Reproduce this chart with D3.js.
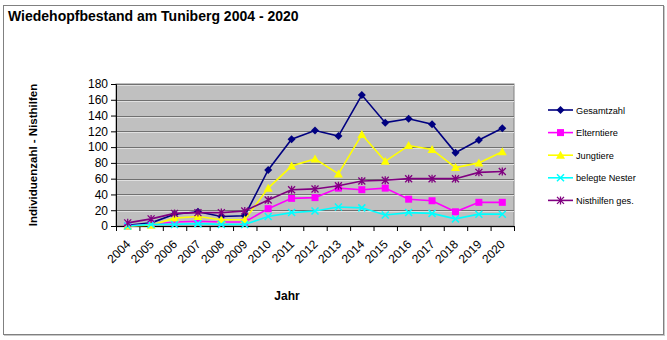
<!DOCTYPE html>
<html><head><meta charset="utf-8">
<script src="https://cdn.jsdelivr.net/npm/d3@7"></script>
<style>html,body{margin:0;padding:0;background:#fff;} svg{display:block;font-family:Arial,"Liberation Sans",Helvetica,sans-serif;}</style>
</head><body><svg id="c" width="667" height="340"></svg>
<script>
const years = ["2004","2005","2006","2007","2008","2009","2010","2011","2012","2013","2014","2015","2016","2017","2018","2019","2020"];
const gesamtzahl    = [1, 4, 15, 18, 12, 13, 71, 110, 121, 114, 166, 131, 136, 129, 93, 109, 124];
const elterntiere   = [0, 2, 5, 6, 5, 5, 22, 35, 36, 48, 46, 48, 34, 32, 18, 30, 30];
const jungtiere     = [0, 1, 10, 12, 8, 8, 48, 76, 85, 66, 116, 82, 102, 97, 74, 80, 94];
const belegteNester = [0, 2, 2, 3, 2, 2, 12, 17, 19, 24, 23, 14, 17, 16, 9, 15, 15];
const nisthilfen    = [4, 9, 16, 17, 17, 19, 33, 46, 47, 51, 57, 58, 60, 60, 60, 68, 69];
const yTicks = [0,20,40,60,80,100,120,140,160,180];
const seriesNames = ["Gesamtzahl","Elterntiere","Jungtiere","belegte Nester","Nisthilfen ges."];

const series = [
  {name: seriesNames[0], values: gesamtzahl, color: "#000080", marker: "diamond"},
  {name: seriesNames[1], values: elterntiere, color: "#ff00ff", marker: "square"},
  {name: seriesNames[2], values: jungtiere, color: "#ffff00", marker: "triangle"},
  {name: seriesNames[3], values: belegteNester, color: "#00ffff", marker: "x"},
  {name: seriesNames[4], values: nisthilfen, color: "#800080", marker: "star"}
];

const svg = d3.select("#c");
// outer frame
svg.append("rect").attr("x",3.5).attr("y",5.5).attr("width",660).attr("height",329).attr("fill","none").attr("stroke","#808080").attr("stroke-width",1);
svg.append("line").attr("x1",4).attr("x2",664).attr("y1",335.5).attr("y2",335.5).attr("stroke","#c8c8c8");
svg.append("line").attr("x1",664.5).attr("x2",664.5).attr("y1",6).attr("y2",336).attr("stroke","#c8c8c8");

svg.append("text").attr("x",8).attr("y",21).attr("font-size",14).attr("font-weight","bold").attr("fill","#000")
  .text("Wiedehopfbestand am Tuniberg 2004 - 2020");

const L=116, R=514, T=84, B=226;
const x = d3.scaleBand().domain(years).range([L,R]);
const y = d3.scaleLinear().domain([0,180]).range([B,T]);

svg.append("rect").attr("x",L).attr("y",T).attr("width",R-L).attr("height",B-T).attr("fill","#c0c0c0").attr("stroke","#808080");
// gridlines
const g = svg.append("g");
yTicks.forEach(t=>{
  g.append("line").attr("x1",L).attr("x2",R).attr("y1",Math.round(y(t))+0.5).attr("y2",Math.round(y(t))+0.5).attr("stroke","#707070").attr("stroke-width",1);
  g.append("line").attr("x1",L).attr("x2",R).attr("y1",Math.round(y(t))+1.5).attr("y2",Math.round(y(t))+1.5).attr("stroke","#e0e0e0").attr("stroke-width",1);
});

// y axis
const yAxis = d3.axisLeft(y).tickValues(yTicks).tickSize(5).tickPadding(3);
const ya = svg.append("g").attr("transform",`translate(${L},0)`).call(yAxis);
ya.select(".domain").attr("stroke","#000");
ya.selectAll("text").attr("font-size",12).attr("fill","#000").style("font-family","Arial,'Liberation Sans',sans-serif");

// x axis
const xa = svg.append("g").attr("transform",`translate(0,${B})`);
xa.append("line").attr("x1",L).attr("x2",R).attr("y1",0.5).attr("y2",0.5).attr("stroke","#000");
const bounds = years.map(d=>x(d)).concat([R]);
bounds.forEach(bx=>{
  xa.append("line").attr("x1",bx+0.5).attr("x2",bx+0.5).attr("y1",0).attr("y2",5).attr("stroke","#000");
});
years.forEach(yr=>{
  const cx = x(yr)+x.bandwidth()/2;
  xa.append("text").attr("transform",`translate(${cx+3.5},${19}) rotate(-45)`)
    .attr("text-anchor","end").attr("font-size",12).attr("fill","#000").text(yr);
});

svg.append("text").attr("x",287).attr("y",300).attr("text-anchor","middle").attr("font-size",12).attr("font-weight","bold").text("Jahr");
svg.append("text").attr("transform","translate(37,155) rotate(-90)").attr("text-anchor","middle").attr("font-size",11.5).attr("font-weight","bold").text("Individuenzahl - Nisthilfen");

function drawMarker(sel, type, color, cx, cy){
  if(type==="diamond"){
    sel.append("path").attr("d",`M${cx},${cy-4}L${cx+4},${cy}L${cx},${cy+4}L${cx-4},${cy}Z`).attr("fill",color);
  } else if(type==="square"){
    sel.append("rect").attr("x",cx-3.5).attr("y",cy-3.5).attr("width",7).attr("height",7).attr("fill",color);
  } else if(type==="triangle"){
    sel.append("path").attr("d",`M${cx},${cy-4.5}L${cx+4.5},${cy+3.5}L${cx-4.5},${cy+3.5}Z`).attr("fill",color);
  } else if(type==="x"){
    sel.append("path").attr("d",`M${cx-3.5},${cy-3.5}L${cx+3.5},${cy+3.5}M${cx-3.5},${cy+3.5}L${cx+3.5},${cy-3.5}`).attr("stroke",color).attr("stroke-width",1.5);
  } else if(type==="star"){
    sel.append("path").attr("d",`M${cx-3.5},${cy-3.5}L${cx+3.5},${cy+3.5}M${cx-3.5},${cy+3.5}L${cx+3.5},${cy-3.5}M${cx},${cy-4}L${cx},${cy+4}`).attr("stroke",color).attr("stroke-width",1.3);
  }
}

const line = d3.line().x((d,i)=>x(years[i])+x.bandwidth()/2).y(d=>y(d));
series.forEach(s=>{
  const sg = svg.append("g");
  sg.append("path").datum(s.values).attr("d",line).attr("fill","none").attr("stroke",s.color).attr("stroke-width",1.6);
  s.values.forEach((v,i)=>drawMarker(sg, s.marker, s.color, x(years[i])+x.bandwidth()/2, y(v)));
});

// legend
const lg = svg.append("g");
series.forEach((s,i)=>{
  const ly = 110 + i*22.6;
  lg.append("line").attr("x1",548).attr("x2",573).attr("y1",ly).attr("y2",ly).attr("stroke",s.color).attr("stroke-width",1.6);
  drawMarker(lg, s.marker, s.color, 560.5, ly);
  lg.append("text").attr("x",576).attr("y",ly+3.5).attr("font-size",9.2).attr("fill","#000").text(s.name);
});
</script></body></html>
